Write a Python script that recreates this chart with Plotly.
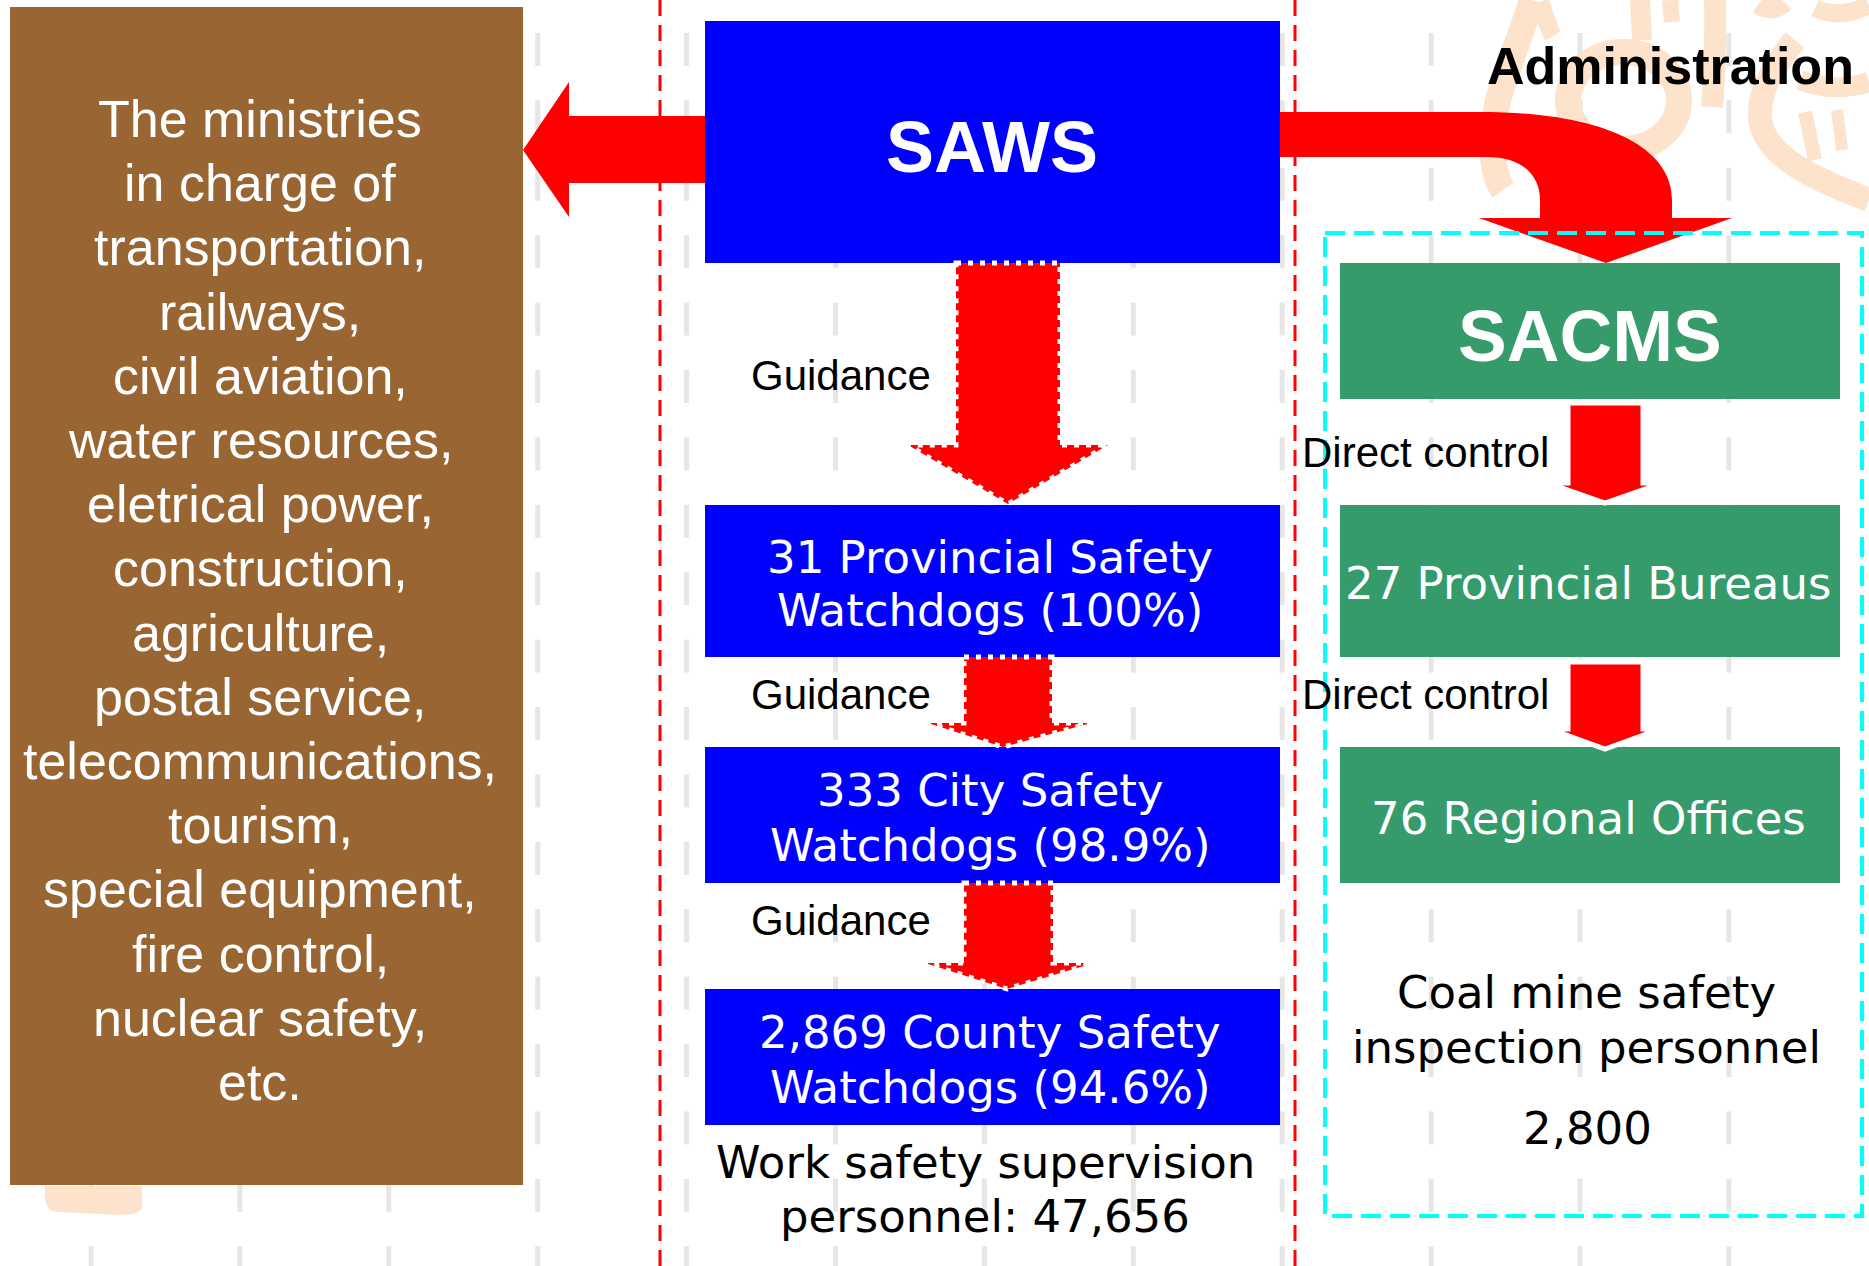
import plotly.graph_objects as go

W, H = 1869, 1266

# ---------------- data (texts and numbers) ----------------
ministries = ["The ministries", "in charge of", "transportation,", "railways,",
              "civil aviation,", "water resources,", "eletrical power,",
              "construction,", "agriculture,", "postal service,",
              "telecommunications,", "tourism,", "special equipment,",
              "fire control,", "nuclear safety,", "etc."]
central_agency = "SAWS"
watchdog_counts = [31, 333, 2869]
watchdog_levels = ["Provincial", "City", "County"]
watchdog_coverage = [100, 98.9, 94.6]
work_safety_personnel = 47656

coal_agency = "SACMS"
coal_counts = [27, 76]
coal_units = ["Provincial Bureaus", "Regional Offices"]
coal_personnel = 2800

link_guidance = "Guidance"
link_direct = "Direct control"
link_admin = "Administration"

# ---------------- styles ----------------
RED = "#FF0000"
BLUE = "#0000FF"
GREEN = "#369B6B"
BROWN = "#996633"
PEACH = "#FDE3CB"
ARIAL = "Liberation Sans, Arial, sans-serif"
GOTHIC = "DejaVu Sans, Verdana, sans-serif"

fig = go.Figure()

# faint background marks (texture)
gx, gy = [], []
for k in range(13):
    x = 91 + 148.9 * k
    for j in range(19):
        y0 = 33 + 67.4 * j
        gx += [x, x, None]
        gy += [y0, y0 + 33, None]
fig.add_trace(go.Scatter(x=gx, y=gy, mode="lines", hoverinfo="skip",
                         line=dict(color="#E6E6E6", width=5), showlegend=False))

shapes = []

def rect(x0, y0, x1, y1, fill, line=None):
    d = dict(type="rect", x0=x0, y0=y0, x1=x1, y1=y1, fillcolor=fill,
             line=dict(width=0) if line is None else line, layer="above")
    shapes.append(d)

def path(p, fill=None, line=None, layer="above"):
    d = dict(type="path", path=p, layer=layer)
    if fill:
        d["fillcolor"] = fill
    d["line"] = line if line else dict(width=0)
    shapes.append(d)

def stroke(p, w):
    path(p, line=dict(color=PEACH, width=w))

# decorative peach calligraphy (top right, bottom left)
stroke("M 1532 0 C 1520 40 1496 90 1493 130 C 1491 160 1496 180 1503 190", 26)
stroke("M 1540 2 C 1545 15 1548 28 1553 36", 18)
shapes.append(dict(type="circle", x0=1568, y0=52, x1=1679, y1=149,
                   line=dict(color=PEACH, width=26)))
stroke("M 1640 0 L 1642 40", 20)
stroke("M 1670 0 L 1672 22", 16)
stroke("M 1715 0 C 1716 40 1714 80 1712 107", 22)
stroke("M 1758 5 C 1768 12 1778 10 1785 3", 18)
stroke("M 1815 8 C 1835 18 1855 12 1869 5", 18)
stroke("M 1800 80 C 1825 90 1850 88 1869 82", 20)
stroke("M 1795 40 C 1770 70 1750 105 1765 135 C 1780 165 1830 185 1869 200", 24)
stroke("M 1805 112 L 1815 160", 14)
stroke("M 1837 110 L 1842 150", 12)
path("M 45 1186 L 142 1186 L 142 1206 C 142 1214 130 1216 100 1214 L 60 1212 C 48 1212 45 1205 45 1196 Z",
     fill=PEACH)

# red dashed separators
for xv in (660, 1295):
    shapes.append(dict(type="line", x0=xv, x1=xv, y0=0, y1=H,
                       line=dict(color=RED, width=3, dash="16px,9px")))

# brown box
rect(10, 7, 523, 1185, BROWN)

# left arrow
path("M 706 116 L 569 116 L 569 82 L 523 150 L 569 217 L 569 183 L 706 183 Z", fill=RED)

# curved arrow to SACMS
path("M 1279 112 L 1480 112 C 1600 112 1672 145 1672 200 L 1672 218 L 1732 218 "
     "L 1606 263 L 1479 218 L 1540 218 L 1540 200 C 1540 175 1522 157 1487 157 L 1279 157 Z",
     fill=RED)

# cyan dashed frame
shapes.append(dict(type="rect", x0=1325, y0=233, x1=1862, y1=1216,
                   line=dict(color="#00FFFF", width=4, dash="20px,9px")))

# blue boxes
rect(705, 21, 1280, 263, BLUE)
blue_rows = [(505, 657), (747, 883), (989, 1125)]
for y0, y1 in blue_rows:
    rect(705, y0, 1280, y1, BLUE)

# green boxes
rect(1340, 263, 1840, 399, GREEN)
green_rows = [(505, 657), (747, 883)]
for y0, y1 in green_rows:
    rect(1340, y0, 1840, y1, GREEN)

# guidance arrows (dotted white outline)
dotted = dict(color="white", width=5, dash="5px,7px")
path("M 956 263 L 1060 263 L 1060 445 L 1108 445 L 1008 504 L 908 445 L 956 445 Z",
     fill=RED, line=dotted)
path("M 964 657 L 1052 657 L 1052 723 L 1091 723 L 1003 747 L 928 723 L 964 723 Z",
     fill=RED, line=dotted)
path("M 964 883 L 1053 883 L 1053 963 L 1094 963 L 1007 989 L 925 963 L 964 963 Z",
     fill=RED, line=dotted)

# direct control arrows (white outline)
wl = dict(color="white", width=5)
path("M 1568 403 L 1643 403 L 1643 483 L 1662 483 L 1605 503 L 1548 483 L 1568 483 Z",
     fill=RED, line=wl)
path("M 1568 662 L 1643 662 L 1643 729 L 1660 729 L 1605 749 L 1550 729 L 1568 729 Z",
     fill=RED, line=wl)

fig.update_layout(shapes=shapes)

# ---------------- texts ----------------
ann = []

def text(x, y, s, size, color="black", family=ARIAL, xanchor="center"):
    ann.append(dict(x=x, y=y, text=s, showarrow=False, xanchor=xanchor,
                    yanchor="middle", font=dict(size=size, color=color, family=family)))

for i, line in enumerate(ministries):
    text(260, 119 + 64.2 * i, line, 52, "white")

text(992, 147, f"<b>{central_agency}</b>", 72, "white")
text(1590, 335, f"<b>{coal_agency}</b>", 73, "white")
text(1670, 66, f"<b>{link_admin}</b>", 52)

line_y = [(557, 610), (790, 845), (1032, 1087)]
for (ya, yb), n, lvl, cov in zip(line_y, watchdog_counts, watchdog_levels, watchdog_coverage):
    text(990, ya, f"{n:,} {lvl} Safety", 45, "white", GOTHIC)
    text(990, yb, f"Watchdogs ({cov:g}%)", 45, "white", GOTHIC)

for yv in (375, 694, 920):
    text(841, yv, link_guidance, 42)
for yv in (452, 694):
    text(1425, yv, link_direct, 42)

text(985, 1162, "Work safety supervision", 45, "black", GOTHIC)
text(985, 1216, f"personnel: {work_safety_personnel:,}", 45, "black", GOTHIC)

for yv, n, unit in zip((583, 818), coal_counts, coal_units):
    text(1588, yv, f"{n} {unit}", 45, "white", GOTHIC)

text(1586, 992, "Coal mine safety", 45, "black", GOTHIC)
text(1586, 1047, "inspection personnel", 45, "black", GOTHIC)
text(1587, 1128, f"{coal_personnel:,}", 45, "black", GOTHIC)

fig.update_layout(
    annotations=ann,
    width=W, height=H,
    margin=dict(l=0, r=0, t=0, b=0),
    paper_bgcolor="white", plot_bgcolor="white",
    xaxis=dict(range=[0, W], visible=False, fixedrange=True),
    yaxis=dict(range=[H, 0], visible=False, fixedrange=True),
    showlegend=False,
)

fig.write_html("out.html", config={"displayModeBar": False},
               post_script="document.body.style.margin='0px';")
